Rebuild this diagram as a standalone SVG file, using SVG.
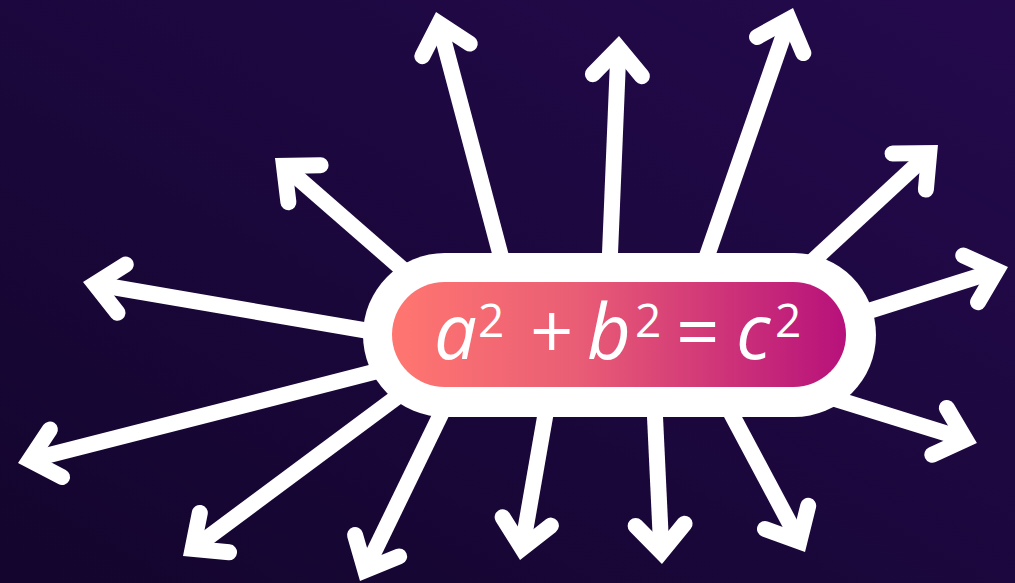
<svg xmlns="http://www.w3.org/2000/svg" width="1015" height="583" viewBox="0 0 1015 583">
  <defs>
    <linearGradient id="bg" x1="0" y1="1" x2="1" y2="0">
      <stop offset="0" stop-color="#13052d"/>
      <stop offset="1" stop-color="#240a4d"/>
    </linearGradient>
    <linearGradient id="pillGrad" x1="392" y1="0" x2="846" y2="0" gradientUnits="userSpaceOnUse">
      <stop offset="0" stop-color="#ff7670"/>
      <stop offset="0.4" stop-color="#ea5e75"/>
      <stop offset="1" stop-color="#b7117b"/>
    </linearGradient>
    <marker id="chev" markerUnits="userSpaceOnUse" orient="auto" refX="0" refY="0" markerWidth="80" markerHeight="80" viewBox="-40 -40 80 80" overflow="visible">
      <path d="M -27.2 -24.5 L 0 0 L -27.2 24.5" fill="none" stroke="#ffffff" stroke-width="16" stroke-linecap="round" stroke-linejoin="miter" stroke-miterlimit="10"/>
    </marker>
    <style>
      .arrow { stroke: #ffffff; stroke-width: 16; fill: none; stroke-linecap: butt; marker-end: url(#chev); }
      .eq { font-family: "Open Sans", "Liberation Sans", sans-serif; fill: #ffffff; }
      .var { font-style: italic; font-size: 76px; }
      .op { font-size: 76px; }
      .sup { font-size: 46px; }
    </style>
  </defs>
  <rect width="1015" height="583" fill="url(#bg)"/>
  <g id="connectors">
    <line class="arrow" x1="503.9" y1="267.5" x2="439.1" y2="23.6"/>
    <line class="arrow" x1="609.4" y1="268" x2="618.5" y2="48"/>
    <line class="arrow" x1="703.1" y1="267.2" x2="789.1" y2="19.3"/>
    <line class="arrow" x1="411.3" y1="276.9" x2="284" y2="165.9"/>
    <line class="arrow" x1="377.8" y1="332.5" x2="94.8" y2="284"/>
    <line class="arrow" x1="384.5" y1="369.3" x2="29.6" y2="460"/>
    <line class="arrow" x1="405" y1="391" x2="192.6" y2="548.8"/>
    <line class="arrow" x1="449.5" y1="396.5" x2="365.2" y2="570.2"/>
    <line class="arrow" x1="547.6" y1="402.2" x2="522.1" y2="548.2"/>
    <line class="arrow" x1="654.3" y1="402" x2="661.4" y2="552"/>
    <line class="arrow" x1="726" y1="403.8" x2="799.4" y2="541.4"/>
    <line class="arrow" x1="830.7" y1="397.5" x2="965.5" y2="439.4"/>
    <line class="arrow" x1="857.7" y1="314.5" x2="996.6" y2="270.6"/>
    <line class="arrow" x1="806" y1="267.2" x2="929.2" y2="153.1"/>
  </g>
  <g id="equation">
    <rect x="363" y="253" width="513" height="164" rx="82" ry="82" fill="#ffffff"/>
    <rect x="392" y="282" width="454" height="105" rx="52.5" ry="52.5" fill="url(#pillGrad)"/>
    <text class="eq" y="359">
      <tspan class="var" x="434">a</tspan><tspan class="sup" x="478" y="337">2</tspan><tspan class="op" x="530" y="359">+</tspan><tspan class="var" x="587">b</tspan><tspan class="sup" x="635" y="337">2</tspan><tspan class="op" x="676" y="359">=</tspan><tspan class="var" x="736">c</tspan><tspan class="sup" x="775" y="337">2</tspan>
    </text>
  </g>
</svg>
